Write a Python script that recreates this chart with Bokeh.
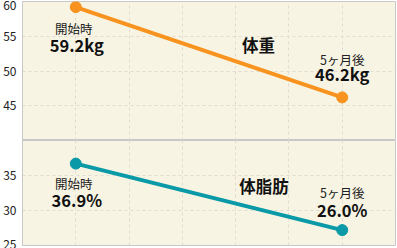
from bokeh.plotting import figure
from bokeh.models import Range1d, FixedTicker, ColumnDataSource
from bokeh.layouts import column
from bokeh.embed import file_html
from bokeh.resources import INLINE
from bokeh.core.properties import value

# data
stages = [1, 6]
stage_labels = ["開始時", "5ヶ月後"]
weight_values = [59.2, 46.2]
weight_labels = ["59.2kg", "46.2kg"]
fat_values = [36.7, 27.2]
fat_labels = ["36.9%", "26.0%"]
weight_ticks = [45, 50, 55, 60]
fat_ticks = [25, 30, 35]

BG = "#F8F4E3"
GRID = "#E0DCD2"
FRAME = "#C8C8C8"
ORANGE = "#F7931E"
TEAL = "#0A99A6"
FONT = "Noto Sans CJK JP"
W = 397


def make_fig(height, yr, ticks, top, bottom):
    p = figure(width=W, height=height, x_range=Range1d(0, 7), y_range=Range1d(*yr),
               output_backend="svg", toolbar_location=None,
               min_border_left=21, min_border_right=2,
               min_border_top=top, min_border_bottom=bottom)
    p.background_fill_color = BG
    p.border_fill_color = "white"
    p.outline_line_color = FRAME
    p.xaxis.visible = False
    p.yaxis.ticker = FixedTicker(ticks=ticks)
    p.yaxis.major_tick_line_color = None
    p.yaxis.minor_tick_line_color = None
    p.yaxis.major_tick_out = 0
    p.yaxis.major_tick_in = 0
    p.yaxis.axis_line_color = FRAME
    p.yaxis.major_label_standoff = 6
    p.yaxis.major_label_text_font = FONT
    p.yaxis.major_label_text_font_size = "12px"
    p.yaxis.major_label_text_color = "#222222"
    p.xgrid.ticker = FixedTicker(ticks=[1, 2, 3, 4, 5, 6])
    for g in (p.xgrid, p.ygrid):
        g.grid_line_color = GRID
        g.grid_line_dash = "3 3"
        g.grid_line_width = 1
    return p


def add_series(p, ys, color, texts, title, title_xy, small_dy, big_dy):
    p.line(stages, ys, line_color=color, line_width=4)
    p.scatter(stages, ys, size=11, fill_color=color, line_color=color)
    src = ColumnDataSource(dict(
        xs=[stages[0] - 0.04, stages[1]],
        xb=[stages[0] + 0.02, stages[1]],
        ys=[ys[0] + small_dy[0], ys[1] + small_dy[1]],
        yb=[ys[0] + big_dy[0], ys[1] + big_dy[1]],
        s=stage_labels, b=texts))
    p.text(x="xs", y="ys", text="s", source=src, text_align="center",
           text_baseline="middle", text_font=value(FONT),
           text_font_size="12.5px", text_color="#222222")
    p.text(x="xb", y="yb", text="b", source=src,
           text_align="center", text_baseline="middle",
           text_font=value(FONT), text_font_style="bold",
           text_font_size="16.5px", text_color="#111111")
    p.text(x=[title_xy[0]], y=[title_xy[1]], text=[title], text_align="center",
           text_baseline="middle", text_font=value(FONT), text_font_style="bold",
           text_font_size="16.5px", text_color="#111111")


top = make_fig(140, (40, 60), weight_ticks, 1, 0)
add_series(top, weight_values, ORANGE, weight_labels, "体重", (4.43, 53.8),
           (-3.05, 5.45), (-5.4, 3.3))

bot = make_fig(108, (25, 40), fat_ticks, 0, 3)
add_series(bot, fat_values, TEAL, fat_labels, "体脂肪", (4.53, 33.45),
           (-2.84, 5.37), (-5.27, 2.94))

layout = column(top, bot, spacing=0)
open("out.html", "w").write(file_html(layout, INLINE))
